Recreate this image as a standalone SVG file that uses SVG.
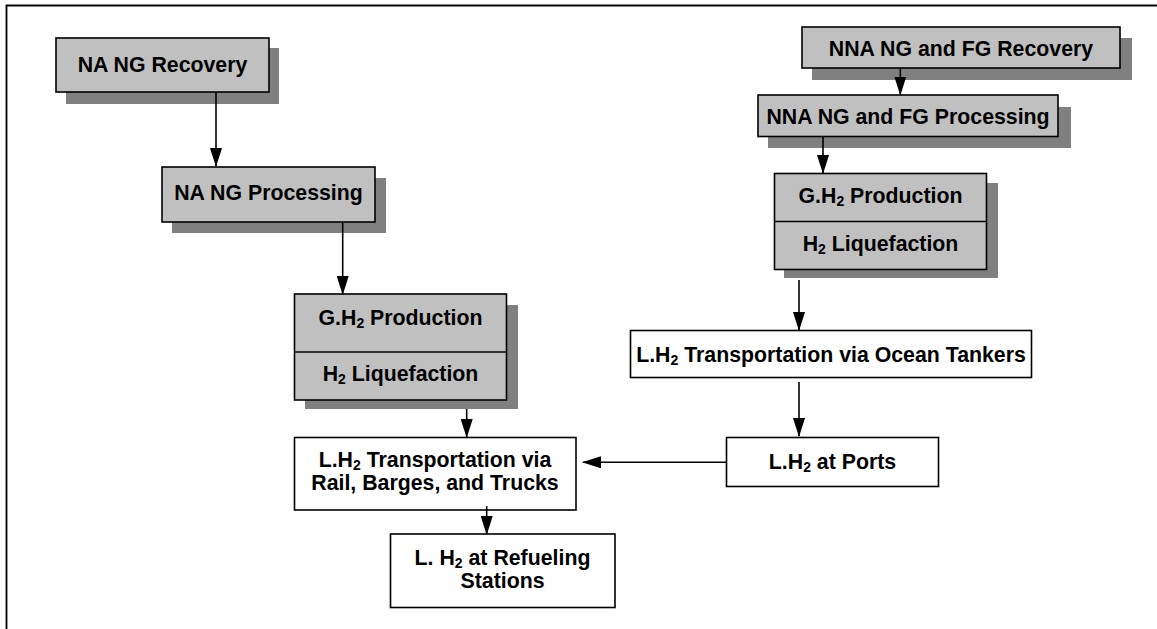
<svg xmlns="http://www.w3.org/2000/svg" width="1157" height="629" viewBox="0 0 1157 629">
<style>
.sh{fill:#808080;stroke:none}
.g{fill:#c0c0c0;stroke:#000;stroke-width:1.6}
.w{fill:#fff;stroke:#000;stroke-width:1.6}
.t{font-family:"Liberation Sans",Arial,sans-serif;font-weight:bold;font-size:21.3px;fill:#000;text-anchor:middle}
.s{font-size:14px}
.c{stroke:#000;stroke-width:1.6;fill:none}
</style>
<defs>
<marker id="ah" markerWidth="19" markerHeight="12" refX="18" refY="6" orient="auto" markerUnits="userSpaceOnUse">
<path d="M0,0 L19,6 L0,12 Z" fill="#000"/>
</marker>
</defs>
<rect width="1157" height="629" fill="#fff"/>
<path d="M6.5,629 L6.5,5.5 L1157,5.5" fill="none" stroke="#000" stroke-width="1.8"/>

<g id="na-recovery">
<rect class="sh" x="66" y="48" width="213" height="56"/>
<rect class="g" x="56" y="38" width="213" height="54"/>
<text class="t" x="162.5" y="71.5">NA NG Recovery</text>
</g>
<g id="na-processing">
<rect class="sh" x="172" y="178" width="214" height="55"/>
<rect class="g" x="162" y="167" width="213" height="55"/>
<text class="t" x="268.5" y="199.5">NA NG Processing</text>
</g>
<g id="left-h2">
<rect class="sh" x="305" y="305" width="213" height="104"/>
<rect class="g" x="294.5" y="294" width="212" height="106"/>
<line x1="294.5" y1="352" x2="506.5" y2="352" stroke="#000" stroke-width="1.6"/>
<text class="t" x="400.5" y="324.5">G.H<tspan class="s" dy="3">2</tspan><tspan dy="-3"> Production</tspan></text>
<text class="t" x="400.5" y="381">H<tspan class="s" dy="3">2</tspan><tspan dy="-3"> Liquefaction</tspan></text>
</g>
<g id="nna-recovery">
<rect class="sh" x="812" y="38" width="320" height="42"/>
<rect class="g" x="802" y="27" width="318" height="41"/>
<text class="t" x="961" y="56">NNA NG and FG Recovery</text>
</g>
<g id="nna-processing">
<rect class="sh" x="768" y="107" width="303" height="41"/>
<rect class="g" x="758" y="95" width="300" height="41.5"/>
<text class="t" x="908" y="123.5">NNA NG and FG Processing</text>
</g>
<g id="right-h2">
<rect class="sh" x="784" y="183" width="214" height="95"/>
<rect class="g" x="774.5" y="173.5" width="212" height="96"/>
<line x1="774.5" y1="221.5" x2="986.5" y2="221.5" stroke="#000" stroke-width="1.6"/>
<text class="t" x="880.5" y="202.5">G.H<tspan class="s" dy="3">2</tspan><tspan dy="-3"> Production</tspan></text>
<text class="t" x="880.5" y="251">H<tspan class="s" dy="3">2</tspan><tspan dy="-3"> Liquefaction</tspan></text>
</g>
<g id="ocean">
<rect class="w" x="630.5" y="330.5" width="401" height="47"/>
<text class="t" x="831" y="362">L.H<tspan class="s" dy="3">2</tspan><tspan dy="-3"> Transportation via Ocean Tankers</tspan></text>
</g>
<g id="ports">
<rect class="w" x="726.5" y="437.5" width="212" height="49"/>
<text class="t" x="832.5" y="469">L.H<tspan class="s" dy="3">2</tspan><tspan dy="-3"> at Ports</tspan></text>
</g>
<g id="rail">
<rect class="w" x="294.5" y="437.5" width="281.5" height="72.5"/>
<text class="t" x="435" y="467">L.H<tspan class="s" dy="3">2</tspan><tspan dy="-3"> Transportation via</tspan></text>
<text class="t" x="435" y="489.5">Rail, Barges, and Trucks</text>
</g>
<g id="refueling">
<rect class="w" x="390.5" y="534" width="224.5" height="73.5"/>
<text class="t" x="502.5" y="565">L. H<tspan class="s" dy="3">2</tspan><tspan dy="-3"> at Refueling</tspan></text>
<text class="t" x="502.5" y="588">Stations</text>
</g>

<g id="connectors">
<line class="c" x1="216" y1="92" x2="216" y2="166" marker-end="url(#ah)"/>
<line class="c" x1="342.7" y1="222" x2="342.7" y2="294" marker-end="url(#ah)"/>
<line class="c" x1="466.7" y1="409" x2="466.7" y2="437" marker-end="url(#ah)"/>
<line class="c" x1="900.3" y1="68" x2="900.3" y2="94.5" marker-end="url(#ah)"/>
<line class="c" x1="823" y1="137" x2="823" y2="173" marker-end="url(#ah)"/>
<line class="c" x1="799" y1="280" x2="799" y2="330" marker-end="url(#ah)"/>
<line class="c" x1="799" y1="382" x2="799" y2="436" marker-end="url(#ah)"/>
<line class="c" x1="726.5" y1="462.3" x2="583" y2="462.3" marker-end="url(#ah)"/>
<line class="c" x1="486.7" y1="506" x2="486.7" y2="534" marker-end="url(#ah)"/>
</g>
</svg>
